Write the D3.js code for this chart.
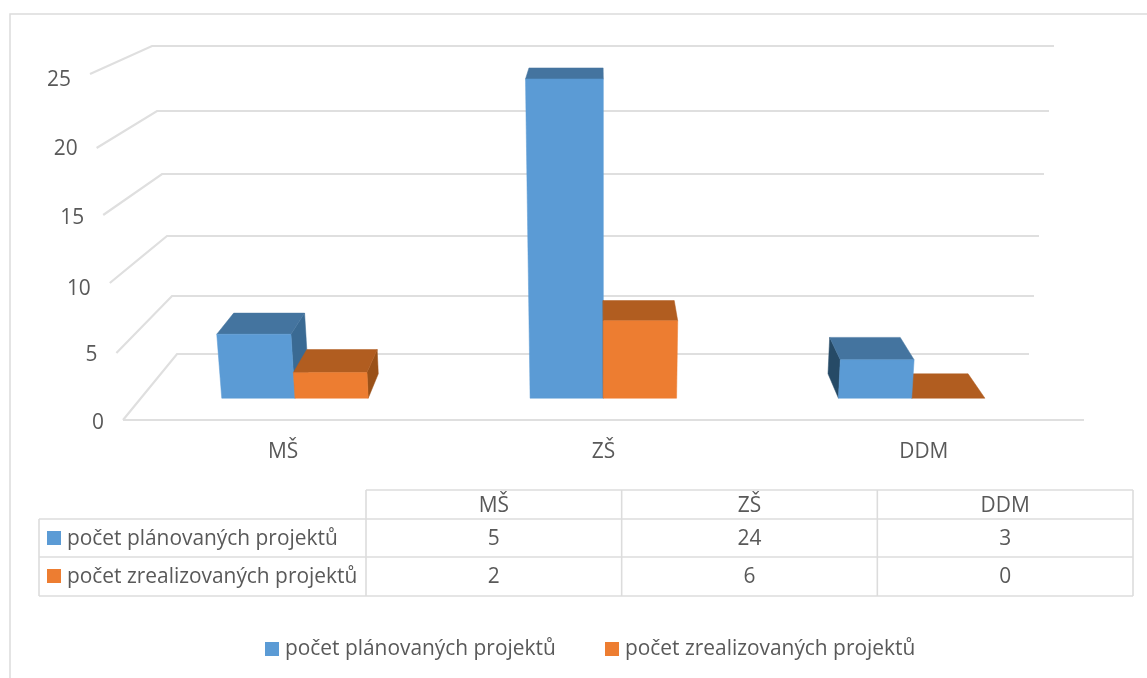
<!DOCTYPE html>
<html><head><meta charset="utf-8">
<script src="https://cdn.jsdelivr.net/npm/d3@7"></script>
<style>html,body{margin:0;padding:0;background:#fff}svg{display:block;filter:blur(0.45px)}text{font-family:"Open Sans",Lato,sans-serif;fill:#595959}</style>
</head><body><svg id="c" width="1147" height="678"></svg>
<script>
const categories = ["MŠ","ZŠ","DDM"];
const seriesNames = ["počet plánovaných projektů","počet zrealizovaných projektů"];
const planned = [5,24,3];
const realized = [2,6,0];
const ticks = [0,5,10,15,20,25];
const colors = ["#5B9BD5","#ED7D31"];
const topColors = ["#44749F","#B15D20"];
const sideColors = ["#3A6A93","#9A5118"];
const leftSideColors = ["#264A66","#8A4A18"];
const gridColor = "#DFDFDF";
const fontSize = 20.9;
const textDy = "0.4em";

const svg = d3.select("#c");
// frame: open on the right, as the reference is cropped there
svg.append("path").attr("d",d3.line()([[10,678],[10,14],[1147,14]])).attr("fill","none").attr("stroke","#DCDCDC").attr("stroke-width",1.5);

// perspective scales (value -> screen) on the front and back planes
const frontY = d3.scaleLinear().domain(ticks).range([420,353,283,215,148,74]);
const backY  = d3.scaleLinear().domain(ticks).range([354,296,236,174,111,46]);
const labelY = d3.scaleLinear().domain(ticks).range([421,353,287,216,147,78]);
const frontL = d3.scaleLinear().domain([0,25]).range([123,90]);
const backL  = d3.scaleLinear().domain([0,25]).range([177,152]);
const frontR = d3.scaleLinear().domain([0,25]).range([1084,1117]);
const backR  = d3.scaleLinear().domain([0,25]).range([1029,1054]);
const proj = (u,v,t)=>{
  const l = d3.interpolateNumber(frontL(v),backL(v))(t);
  const r = d3.interpolateNumber(frontR(v),backR(v))(t);
  return [l+(r-l)*u, d3.interpolateNumber(frontY(v),backY(v))(t)];
};
const catBand = d3.scaleBand().domain(categories).range([0,1]).paddingInner(0.525).paddingOuter(0.2625);
const serBand = d3.scaleBand().domain([0,1]).range([0,catBand.bandwidth()]);
const T0=0.33,T1=0.70;

// grid
const grid = svg.append("g").attr("fill","none").attr("stroke",gridColor).attr("stroke-width",2.2);
ticks.forEach(v=>{
  grid.append("path").attr("d",d3.line()([proj(0,v,0),proj(0,v,1),proj(1,v,1)]));
});
grid.append("path").attr("d",d3.line()([proj(0,0,0),proj(1,0,0)]));

// value labels
svg.append("g").selectAll("text").data(ticks).join("text")
  .attr("x",v=>frontL(v)-19).attr("y",v=>labelY(v)).attr("dy",textDy)
  .attr("text-anchor","end").attr("font-size",fontSize).text(v=>v);

// bars
const quad = pts=>d3.line()(pts)+"Z";
const bars=[];
categories.forEach((c,i)=>{
  [planned[i],realized[i]].forEach((val,s)=>{
    const u0=catBand(c)+serBand(s), u1=u0+serBand.bandwidth();
    bars.push({val,s,u0,u1,dist:Math.abs((u0+u1)/2-0.5)});
  });
});
bars.sort((a,b)=>b.dist-a.dist);
const gBars=svg.append("g").attr("stroke-linejoin","round");
bars.forEach(b=>{
  const {val,s,u0,u1}=b;
  const add=(pts,col)=>gBars.append("path").attr("d",quad(pts)).attr("fill",col).attr("stroke",col).attr("stroke-width",0.5);
  const fl0=proj(u0,0,T0),fr0=proj(u1,0,T0),flv=proj(u0,val,T0),frv=proj(u1,val,T0);
  const bl0=proj(u0,0,T1),br0=proj(u1,0,T1),blv=proj(u0,val,T1),brv=proj(u1,val,T1);
  if(blv[0]<flv[0]) add([fl0,flv,blv,bl0],leftSideColors[s]);
  if(brv[0]>frv[0]) add([fr0,frv,brv,br0],sideColors[s]);
  add([flv,frv,brv,blv],topColors[s]);
  if(val>0) add([fl0,fr0,frv,flv],colors[s]);
});

// category labels
svg.append("g").selectAll("text").data(categories).join("text")
  .attr("x",c=>proj(catBand(c)+catBand.bandwidth()/2,0,0)[0]).attr("y",450).attr("dy",textDy)
  .attr("text-anchor","middle").attr("font-size",fontSize).text(c=>c);

// data table
const tx = d3.scaleBand().domain(categories).range([366,1133]);
const tl = svg.append("g").attr("fill","none").attr("stroke","#DCDCDC").attr("stroke-width",1.6);
const rowLine=(x0,x1,y)=>tl.append("path").attr("d",d3.line()([[x0,y],[x1,y]]));
rowLine(366,1133,490);rowLine(39,1133,519);rowLine(39,1133,557);rowLine(39,1133,596);
tl.append("path").attr("d",d3.line()([[39,519],[39,596]]));
tx.domain().forEach(c=>{tl.append("path").attr("d",d3.line()([[tx(c),490],[tx(c),596]]));});
tl.append("path").attr("d",d3.line()([[1133,490],[1133,596]]));
const rowY = d3.scaleOrdinal().domain(["head",0,1]).range([504,537,575]);
svg.append("g").selectAll("text").data(categories).join("text")
  .attr("x",c=>tx(c)+tx.bandwidth()/2).attr("y",rowY("head")).attr("dy",textDy).attr("text-anchor","middle").attr("font-size",fontSize).text(c=>c);
[planned,realized].forEach((arr,s)=>{
  svg.append("g").selectAll("text").data(arr).join("text")
    .attr("x",(d,i)=>tx(categories[i])+tx.bandwidth()/2).attr("y",rowY(s)).attr("dy",textDy).attr("text-anchor","middle").attr("font-size",fontSize).text(d=>d);
  svg.append("rect").attr("x",47).attr("y",rowY(s)-6).attr("width",14).attr("height",14).attr("fill",colors[s]);
  svg.append("text").attr("x",67).attr("y",rowY(s)).attr("dy",textDy).attr("font-size",fontSize).text(seriesNames[s]);
});

// legend
const legX = d3.scaleOrdinal().domain([0,1]).range([265,605]);
[0,1].forEach(s=>{
  svg.append("rect").attr("x",legX(s)).attr("y",642).attr("width",14).attr("height",14).attr("fill",colors[s]);
  svg.append("text").attr("x",legX(s)+20).attr("y",647).attr("dy",textDy).attr("font-size",fontSize).text(seriesNames[s]);
});
</script></body></html>
